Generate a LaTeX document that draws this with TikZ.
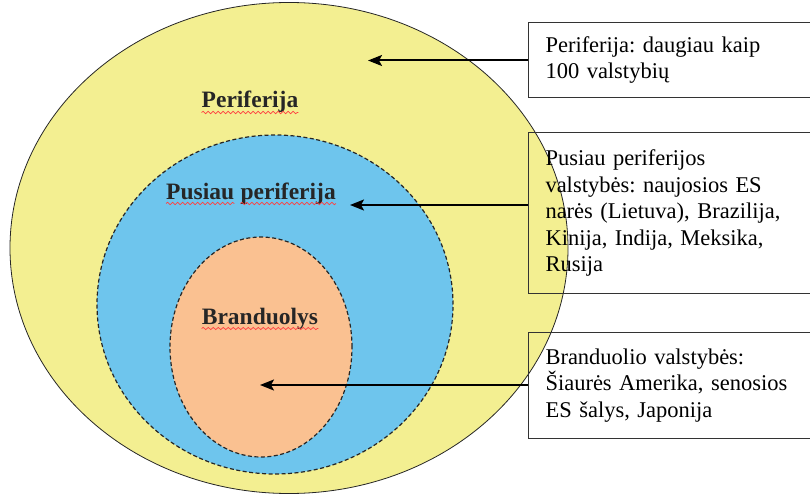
\documentclass[tikz,border=0pt]{standalone}
\usepackage{fontspec}
\setmainfont{Liberation Serif}
\usetikzlibrary{shapes.geometric,arrows.meta,decorations.pathmorphing}
\definecolor{peri}{RGB}{243,239,145}
\definecolor{semi}{RGB}{110,197,237}
\definecolor{core}{RGB}{250,193,145}
\frenchspacing
\begin{document}
\begin{tikzpicture}[x=1pt,y=-1pt,
  ring/.style={ellipse, inner sep=0pt},
  dashring/.style={ring, draw=black!85, dash pattern=on 4pt off 2.5pt, line width=1.2pt},
  infobox/.style={draw=black!80, line width=1pt, anchor=north west, text width=250pt, inner xsep=17pt, align=left, font=\fontsize{22.5}{26.5}\selectfont},
  lbl/.style={font=\fontsize{23.5}{26}\selectfont\bfseries, inner sep=0pt, text=black!85},
  pointer/.style={line width=2pt, -{Stealth[length=14pt,width=11pt,inset=3pt]}},
  squiggle/.style={draw=red!75, line width=0.7pt, decorate, decoration={snake, amplitude=1.2pt, segment length=5pt}}
]
\path[use as bounding box] (0,0) rectangle (810,497);
\node[ring, draw=black!85, line width=0.8pt, fill=peri, minimum width=558pt, minimum height=491pt] (outer) at (289,248) {};
\node[dashring, fill=semi, minimum width=356pt, minimum height=339pt] (mid) at (275,304.5) {};
\node[dashring, fill=core, minimum width=182pt, minimum height=220pt] (core) at (261,347) {};

\node[lbl, anchor=base] (lp) at (250,108) {Periferija};
\node[lbl, anchor=base west] (ls1) at (166,199) {Pusiau};
\node[lbl, anchor=base west] (ls2) at ([xshift=6pt]ls1.base east) {periferija};
\node[lbl, anchor=base] (lb) at (260,324) {Branduolys};
\foreach \n in {lp,ls1,ls2,lb}
  \draw[squiggle] ([yshift=-4.5pt]\n.base west) -- ([yshift=-4.5pt]\n.base east);

\node[infobox, minimum height=75pt] (b1) at (528,22) {Periferija: daugiau kaip\\100 valstybių};
\node[infobox, minimum height=161pt] (b2) at (528,132) {Pusiau periferijos\\valstybės: naujosios ES\\narės (Lietuva), Brazilija,\\Kinija, Indija, Meksika,\\Rusija};
\node[infobox, minimum height=106pt] (b3) at (528,332) {Branduolio valstybės:\\Šiaurės Amerika, senosios\\ES šalys, Japonija};

\coordinate (t1) at (368,60.5);
\coordinate (t2) at (350,205);
\coordinate (t3) at (260,385);
\draw[pointer] (b1.west |- t1) -- (t1);
\draw[pointer] (b2.west |- t2) -- (t2);
\draw[pointer] (b3.west |- t3) -- (t3);
\end{tikzpicture}
\end{document}
